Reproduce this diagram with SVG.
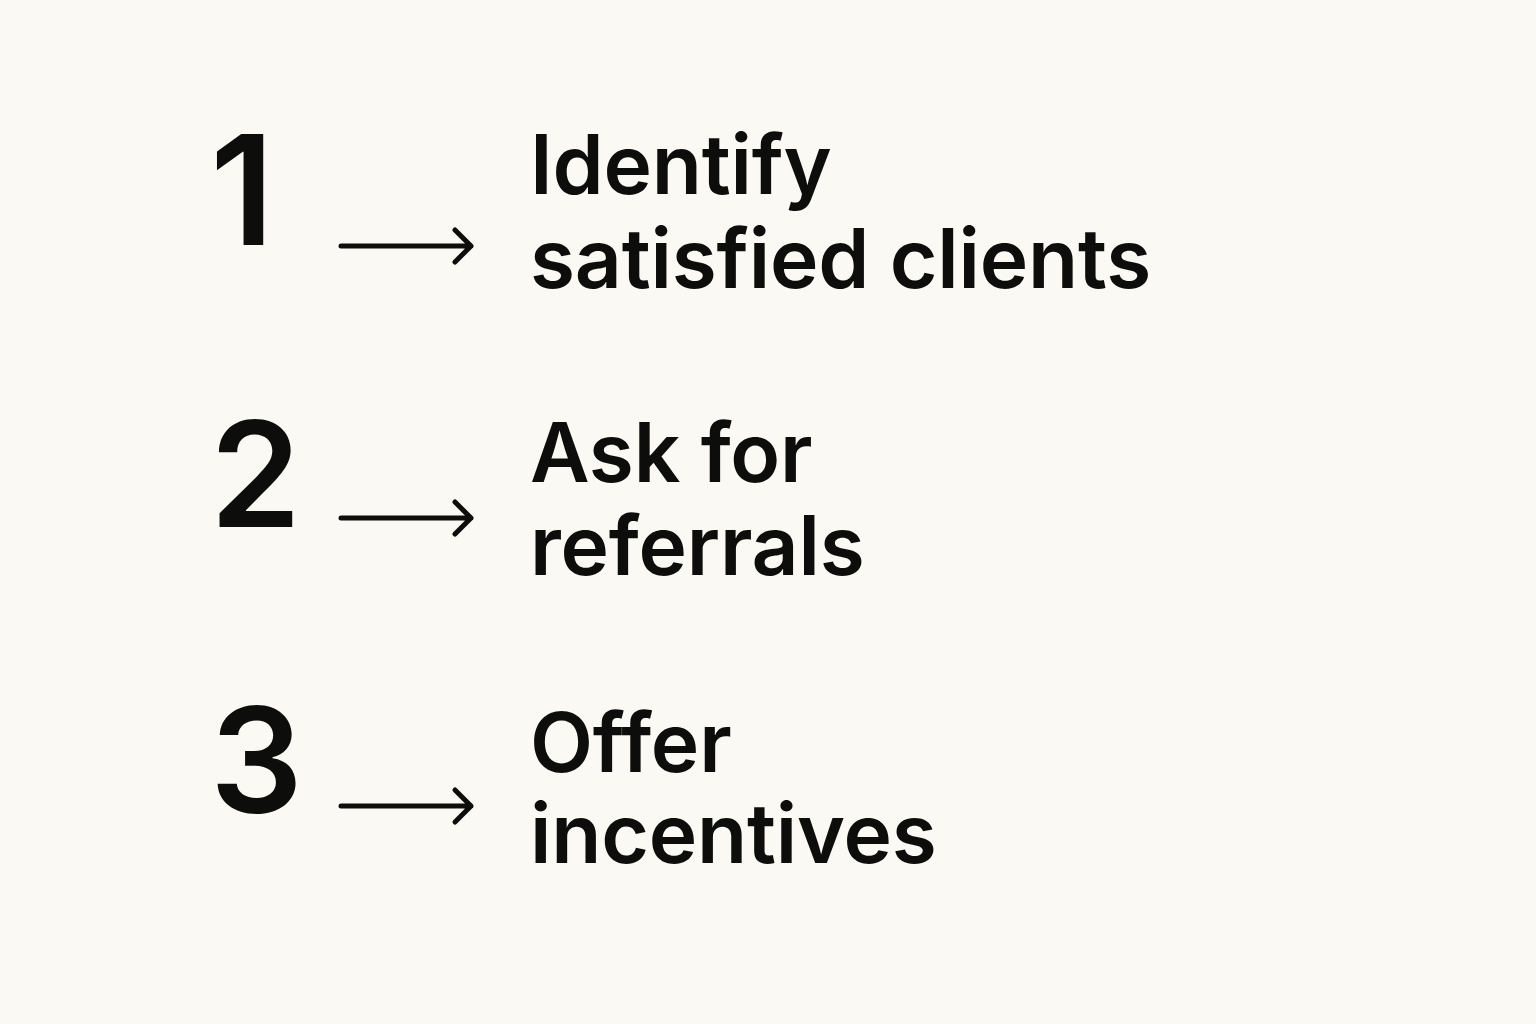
<svg xmlns="http://www.w3.org/2000/svg" width="1536" height="1024" viewBox="0 0 1536 1024">
<defs>
<style>
.num{font-family:Inter,"Liberation Sans",sans-serif;font-weight:600;font-size:146px;fill:#0d0d0b;}
.lbl{font-family:Inter,"Liberation Sans",sans-serif;font-weight:600;font-size:82px;letter-spacing:-0.2px;fill:#0d0d0b;}
.arr{fill:none;stroke:#0d0d0b;stroke-width:5;stroke-linecap:round;stroke-linejoin:round;}
</style>
</defs>
<rect width="1536" height="1024" fill="#faf9f4"/>
<g id="step1">
<text class="num" x="210" y="245" style="font-size:152px">1</text>
<text class="lbl" x="530" y="194">Identify</text>
<text class="lbl" x="530" y="288">satisfied clients</text>
</g>
<g id="step2">
<text class="num" x="210" y="527">2</text>
<text class="lbl" x="530" y="482">Ask for</text>
<text class="lbl" x="530" y="575">referrals</text>
</g>
<g id="step3">
<text class="num" x="210" y="813">3</text>
<text class="lbl" x="530" y="772">Offer</text>
<text class="lbl" x="530" y="863">incentives</text>
</g>
<g id="connectors">
<path class="arr" d="M341 246H471M455 230L471 246L455 262"/>
<path class="arr" d="M341 518H471M455 502L471 518L455 534"/>
<path class="arr" d="M341 806H471M455 790L471 806L455 822"/>
</g>
</svg>
